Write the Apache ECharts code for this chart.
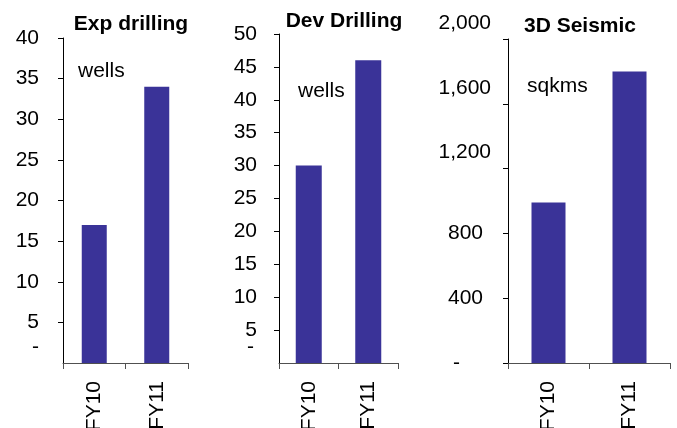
<!DOCTYPE html>
<html>
<head>
<meta charset="utf-8">
<script src="https://cdn.jsdelivr.net/npm/echarts@6/dist/echarts.min.js"></script>
<style>
  html, body { margin: 0; padding: 0; background: #fff; }
  #chart { width: 677px; height: 428px; }
</style>
</head>
<body>
<div id="chart"></div>
<script>
// Activity by fiscal year
const categories = ['FY10', 'FY11'];
const expWells = [17, 34];          // exploration wells drilled
const devWells = [30, 46];          // development wells drilled
const seismicSqkm = [990, 1800];    // 3D seismic acquired, sq km

const panelTitles = ['Exp drilling', 'Dev Drilling', '3D Seismic'];
const unitLabels = ['wells', 'wells', 'sqkms'];

const FONT = '"Liberation Sans", Arial, sans-serif';
const BAR_COLOR = '#3A3398';

const chart = echarts.init(document.getElementById('chart'), null, { renderer: 'canvas' });

// Fixed plot areas; labels are allowed to run past the canvas edge
const grids = [
  { left: 63, top: 38, width: 125, height: 325 },
  { left: 279, top: 34, width: 119, height: 329 },
  { left: 508, top: 39, width: 162, height: 324 }
].map(g => Object.assign(g, { containLabel: false, outerBoundsMode: 'none' }));

function xAxisFor(i) {
  return {
    type: 'category',
    gridIndex: i,
    data: categories,
    axisLine: { lineStyle: { color: '#505050', width: 1 } },
    axisTick: { show: true, length: 6, lineStyle: { color: '#505050' } },
    axisLabel: {
      rotate: 90, margin: 18, color: '#000',
      fontFamily: FONT, fontSize: 21
    },
    splitLine: { show: false }
  };
}

function yAxisFor(i, max, interval, labelOpts) {
  return {
    type: 'value',
    gridIndex: i,
    position: 'left',
    min: 0, max: max, interval: interval,
    axisLine: { show: true, lineStyle: { color: '#000', width: 1 } },
    axisTick: { show: true, length: 5, lineStyle: { color: '#000' } },
    axisLabel: Object.assign({
      color: '#000', fontFamily: FONT, fontSize: 21, showMaxLabel: true
    }, labelOpts),
    splitLine: { show: false }
  };
}

// Zero is shown as a dash (accounting style), set a little above the zero tick.
// It sits on its own label-only axis so it never competes with the "5" label.
function dashAxisFor(i, max, margin, extraRight) {
  return {
    type: 'value',
    gridIndex: i,
    position: 'left',
    min: 0, max: max,
    axisLine: { show: false },
    axisTick: { show: false },
    splitLine: { show: false },
    axisLabel: {
      customValues: [0],
      color: '#000', fontFamily: FONT, fontSize: 21, margin: margin,
      formatter: () => '{d|-}',
      rich: { d: { lineHeight: 2, padding: [0, extraRight, 32, 0] } }
    }
  };
}

const sqkmFmt = v => {
  if (v === 0) return '{z|-}';
  if (v >= 1000) return '{w|' + v.toLocaleString('en-US') + '}';
  return '{n|' + v + '}';
};

const titleStyle = { fontFamily: FONT, fontSize: 21, fontWeight: 'bold', color: '#000' };
const unitStyle = { fontFamily: FONT, fontSize: 21, fontWeight: 'normal', color: '#000' };

const option = {
  backgroundColor: '#fff',
  animation: false,
  title: [
    { text: panelTitles[0], left: 131, top: 14, textAlign: 'center', padding: 0, textStyle: titleStyle },
    { text: panelTitles[1], left: 344, top: 11, textAlign: 'center', padding: 0, textStyle: titleStyle },
    { text: panelTitles[2], left: 580, top: 16, textAlign: 'center', padding: 0, textStyle: titleStyle },
    { text: unitLabels[0], left: 78, top: 61, padding: 0, textStyle: unitStyle },
    { text: unitLabels[1], left: 298, top: 81, padding: 0, textStyle: unitStyle },
    { text: unitLabels[2], left: 527, top: 76, padding: 0, textStyle: unitStyle }
  ],
  grid: grids,
  xAxis: [xAxisFor(0), xAxisFor(1), xAxisFor(2)],
  yAxis: [
    yAxisFor(0, 40, 5, { margin: 24, showMinLabel: false }),
    dashAxisFor(0, 40, 24, 0),
    yAxisFor(1, 50, 5, { margin: 22, showMinLabel: false }),
    dashAxisFor(1, 50, 22, 3),
    yAxisFor(2, 2000, 400, {
      margin: 17, showMinLabel: true, formatter: sqkmFmt,
      rich: {
        w: { lineHeight: 2, padding: [0, 0, 32, 0] },
        n: { padding: [0, 8, 0, 0] },
        z: { padding: [0, 31, 0, 0] }
      }
    })
  ],
  series: [
    { type: 'bar', xAxisIndex: 0, yAxisIndex: 0, data: expWells,
      barWidth: 25, itemStyle: { color: BAR_COLOR } },
    { type: 'bar', xAxisIndex: 1, yAxisIndex: 2, data: devWells,
      barWidth: 26, itemStyle: { color: BAR_COLOR } },
    { type: 'bar', xAxisIndex: 2, yAxisIndex: 4, data: seismicSqkm,
      barWidth: 34, itemStyle: { color: BAR_COLOR } }
  ]
};

chart.setOption(option);
</script>
</body>
</html>
